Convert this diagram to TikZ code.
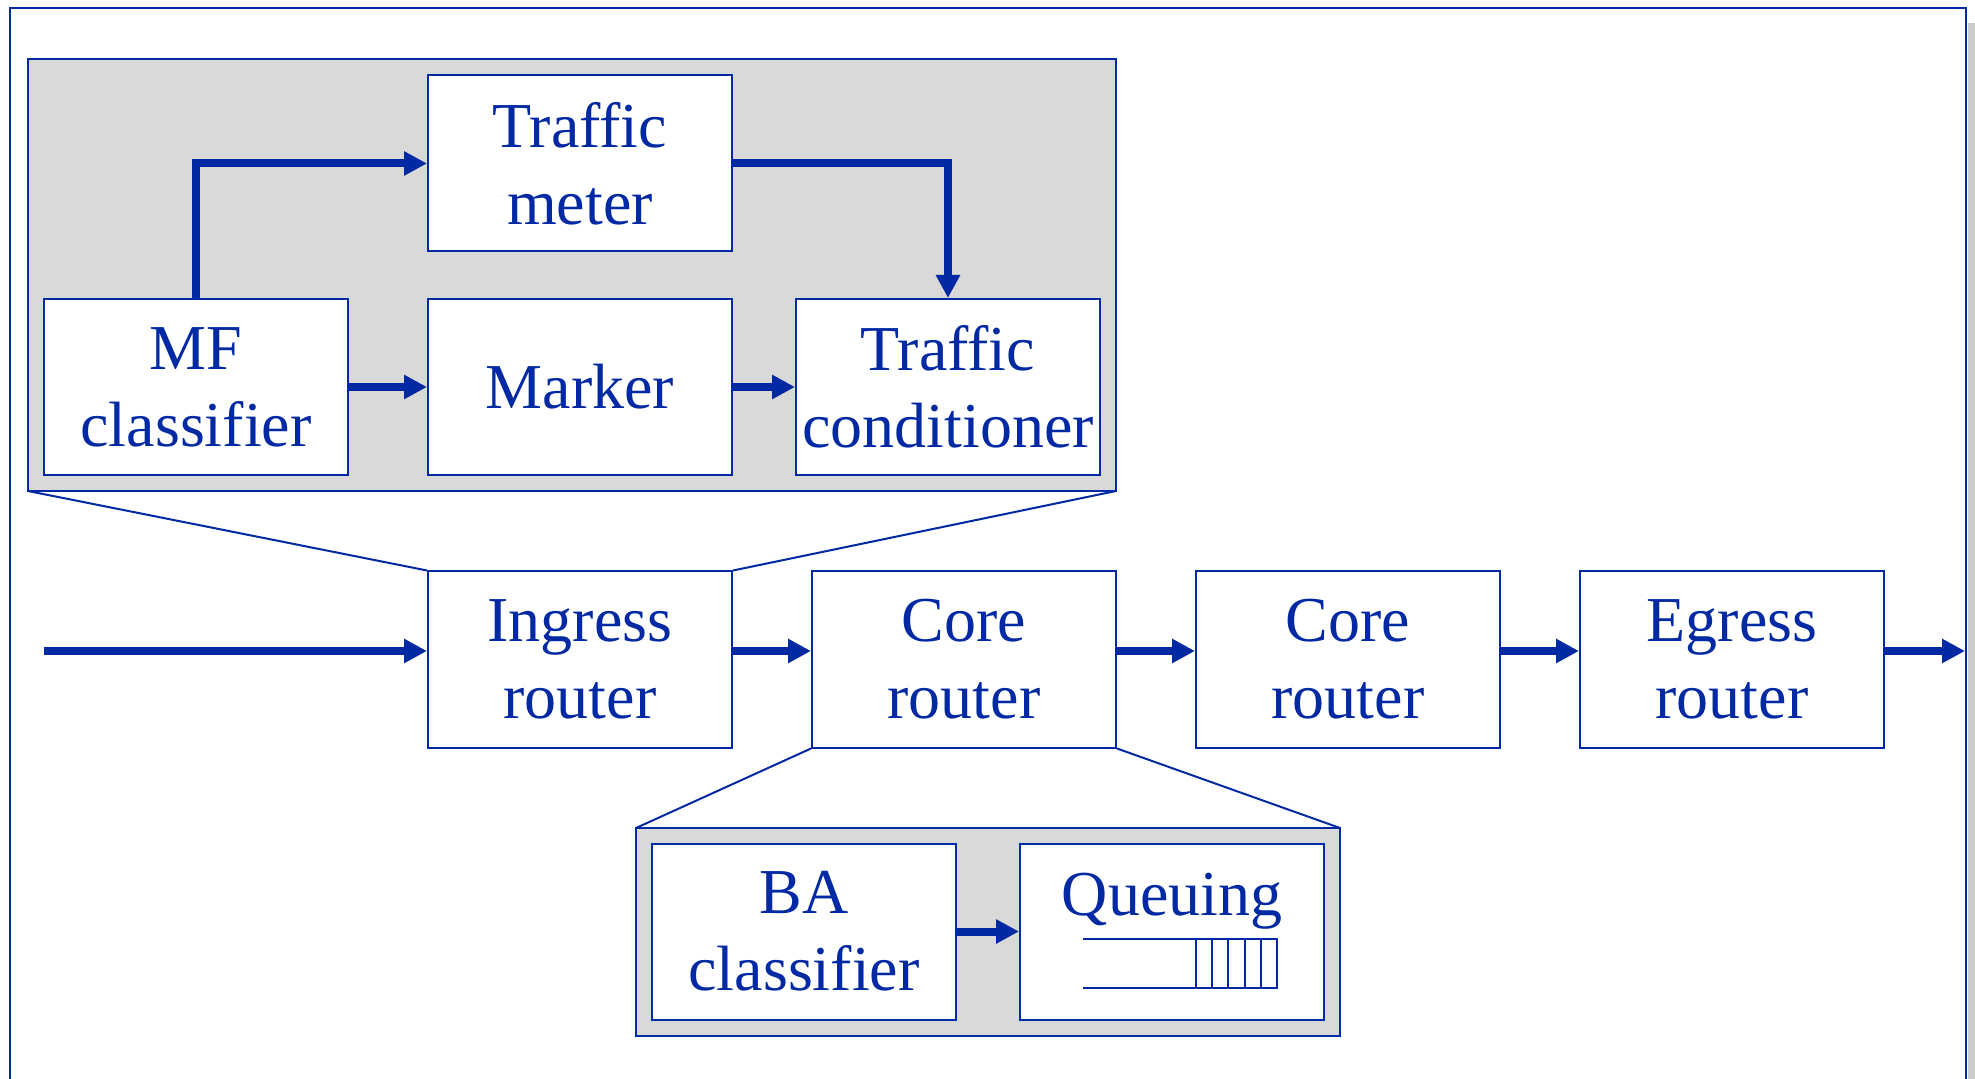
\documentclass[tikz,border=0pt]{standalone}
\usepackage{fontspec}
\setmainfont{Liberation Serif}
\newfontfamily\tnr{Liberation Serif}
\usetikzlibrary{arrows.meta}
\definecolor{blu}{RGB}{0,41,163}
\definecolor{pgray}{RGB}{217,217,217}
\definecolor{sgray}{RGB}{204,204,204}
\begin{document}
\begin{tikzpicture}[x=0.5pt,y=-0.5pt,
  box/.style={draw=blu, fill=white, line width=1pt, minimum width=152pt, minimum height=88pt, inner sep=0pt, align=center, text=blu, font=\tnr\fontsize{32}{38.5}\selectfont},
  lbl/.style={inner sep=0pt, text=blu, font=\tnr\fontsize{32}{38.5}\selectfont},
  panel/.style={draw=blu, fill=pgray, line width=1pt},
  flow/.style={draw=blu, line width=4pt, -{Triangle[length=11.5pt,width=11.5pt]}},
  thin/.style={draw=blu, line width=1pt}]
\useasboundingbox (0,0) rectangle (1975,1079);
% outer frame and shadow
\fill[sgray] (1968,23) rectangle (1975,1079);
\draw[thin] (10,1085) -- (10,8) -- (1966,8) -- (1966,1085);
% panels
\draw[panel] (28,59) rectangle (1116,491);
\draw[panel] (636,828) rectangle (1340,1036);
% top detail boxes
\node[box] (meter) at (580,163.5) {Traffic\\meter};
\node[box] (mf) at (196,387) {MF\\classifier};
\node[box] (marker) at (580,387) {Marker};
\node[box] (tc) at (948,387) {Traffic\\conditioner};
% routers
\node[box] (ingress) at (580,659.5) {Ingress\\router};
\node[box] (core1) at (964,659.5) {Core\\router};
\node[box] (core2) at (1348,659.5) {Core\\router};
\node[box] (egress) at (1732,659.5) {Egress\\router};
% bottom detail boxes
\node[box] (ba) at (804,931.5) {BA\\classifier};
\node[box] (queue) at (1172,931.5) {};
\node[lbl, anchor=base] (qlabel) at (1172,915) {Queuing};
% queue icon
\draw[thin] (1083,939) -- (1277,939) -- (1277,988) -- (1083,988);
\foreach \qx in {1196,1212,1228,1245,1261}
  \draw[thin] (\qx,939) -- (\qx,988);
% zoom lines
\draw[thin] (28,491) -- (ingress.north west);
\draw[thin] (1116,491) -- (ingress.north east);
\draw[thin] (core1.south west) -- (636,828);
\draw[thin] (core1.south east) -- (1340,828);
% top arrows
\draw[flow] (mf.north) |- (meter.west);
\draw[flow] (meter.east) -| (tc.north);
\draw[flow] (mf.east) -- (marker.west);
\draw[flow] (marker.east) -- (tc.west);
% router arrows
\coordinate (in) at (44,651);
\coordinate (out) at (1965,651);
\draw[flow] (in) -- ([yshift=4.25pt]ingress.west);
\draw[flow] ([yshift=4.25pt]ingress.east) -- ([yshift=4.25pt]core1.west);
\draw[flow] ([yshift=4.25pt]core1.east) -- ([yshift=4.25pt]core2.west);
\draw[flow] ([yshift=4.25pt]core2.east) -- ([yshift=4.25pt]egress.west);
\draw[flow] ([yshift=4.25pt]egress.east) -- (out);
% bottom arrow
\draw[flow] (ba.east) -- (queue.west);
\end{tikzpicture}
\end{document}
